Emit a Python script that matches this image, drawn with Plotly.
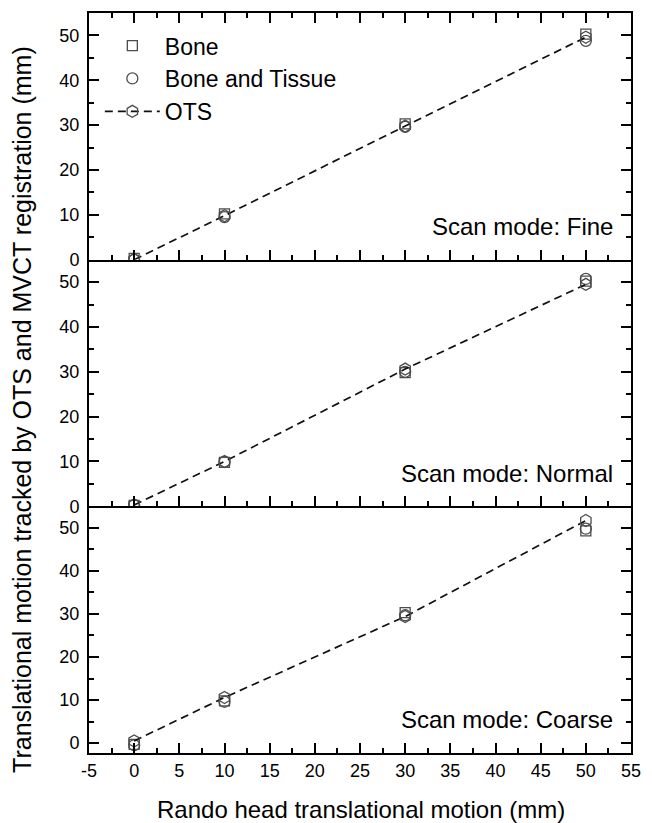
import plotly.graph_objects as go
from plotly.subplots import make_subplots

x_motion = [0, 10, 30, 50]
modes = ["Fine", "Normal", "Coarse"]

fine_bone = [0.3, 10.2, 30.3, 50.3]
fine_tissue = [0.0, 9.5, 29.6, 48.8]
fine_ots = [0.0, 9.8, 29.8, 49.6]

normal_bone = [0.2, 9.8, 29.8, 50.2]
normal_tissue = [0.3, 9.9, 30.0, 50.7]
normal_ots = [0.3, 10.0, 30.6, 49.5]

coarse_bone = [-0.3, 9.8, 30.3, 49.3]
coarse_tissue = [-0.5, 9.6, 29.7, 49.8]
coarse_ots = [0.5, 10.6, 29.4, 51.7]

panels = [
    (fine_bone, fine_tissue, fine_ots),
    (normal_bone, normal_tissue, normal_ots),
    (coarse_bone, coarse_tissue, coarse_ots),
]
y_ranges = [[0, 55], [0, 55], [-2.3, 55]]

x_ticks = list(range(-5, 56, 5))
y_ticks = [0, 10, 20, 30, 40, 50]

FONT = "Liberation Sans, Arial, sans-serif"
MCOL = "#4d4d4d"

fig = make_subplots(rows=3, cols=1, shared_xaxes=True, vertical_spacing=0)

for i, (bone, tissue, ots) in enumerate(panels):
    r = i + 1
    show = (i == 0)
    fig.add_trace(go.Scatter(
        x=x_motion, y=bone, mode="markers", name="Bone", showlegend=show,
        marker=dict(symbol="square-open", size=10, color=MCOL, line=dict(width=1.3, color=MCOL)),
    ), row=r, col=1)
    fig.add_trace(go.Scatter(
        x=x_motion, y=tissue, mode="markers", name="Bone and Tissue", showlegend=show,
        marker=dict(symbol="circle-open", size=11, color=MCOL, line=dict(width=1.3, color=MCOL)),
    ), row=r, col=1)
    fig.add_trace(go.Scatter(
        x=x_motion, y=ots, mode="lines+markers", name="OTS", showlegend=show,
        line=dict(color="#111111", width=1.7, dash="8px,5px"),
        marker=dict(symbol="hexagon-open", size=12, color=MCOL, line=dict(width=1.3, color=MCOL)),
    ), row=r, col=1)

axis_common = dict(
    showline=True, linecolor="black", linewidth=2,
    ticks="inside", tickcolor="black", tickwidth=2, ticklen=10,
    showgrid=False, zeroline=False,
    tickfont=dict(family=FONT, size=18, color="black"),
)

for i in range(3):
    r = i + 1
    fig.update_xaxes(
        range=[-5, 55], tickvals=x_ticks, ticktext=[str(v) for v in x_ticks],
        showticklabels=(i == 2),
        mirror=("ticks" if i == 0 else False),
        minor=dict(dtick=2.5, tick0=0, ticks="inside", ticklen=5, tickwidth=2, tickcolor="black"),
        **axis_common, row=r, col=1,
    )
    fig.update_yaxes(
        range=y_ranges[i], tickvals=y_ticks, ticktext=[str(v) for v in y_ticks],
        mirror="ticks", ticklabelstandoff=4,
        minor=dict(dtick=5, tick0=0, ticks="inside", ticklen=5, tickwidth=2, tickcolor="black"),
        **axis_common, row=r, col=1,
    )

for i, m in enumerate(modes):
    xr = "x domain" if i == 0 else f"x{i+1} domain"
    yr = "y domain" if i == 0 else f"y{i+1} domain"
    fig.add_annotation(
        text=f"Scan mode: {m}", xref=xr, yref=yr, x=0.971, y=0.134,
        xanchor="right", yanchor="middle", showarrow=False,
        font=dict(family=FONT, size=24, color="black"),
    )

fig.add_annotation(
    text="Translational motion tracked by OTS and MVCT registration (mm)",
    xref="paper", yref="paper", x=-0.125, y=0.464, xanchor="center", yanchor="middle",
    textangle=-90, showarrow=False, font=dict(family=FONT, size=25, color="black"),
)
fig.add_annotation(
    text="Rando head translational motion (mm)",
    xref="paper", yref="paper", x=0.502, y=-0.077, xanchor="center", yanchor="middle",
    showarrow=False, font=dict(family=FONT, size=24, color="black"),
)

fig.update_layout(
    width=652, height=823,
    margin=dict(l=89, r=11, t=13, b=70),
    paper_bgcolor="white", plot_bgcolor="white",
    showlegend=True,
    legend=dict(
        x=0.02, y=0.985, xanchor="left", yanchor="top",
        bgcolor="rgba(0,0,0,0)", borderwidth=0,
        font=dict(family=FONT, size=23, color="black"),
        itemwidth=55, tracegroupgap=0,
    ),
)

fig.write_html("out.html")
